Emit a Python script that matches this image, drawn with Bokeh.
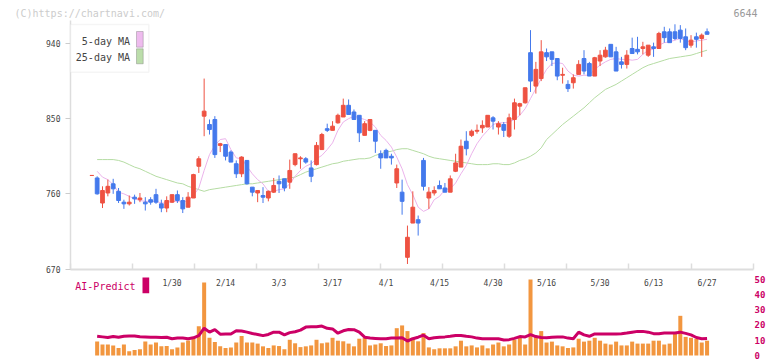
from bokeh.plotting import figure
from bokeh.models import Range1d, LinearAxis, FixedTicker, ColumnDataSource, Label, BoxAnnotation
from bokeh.embed import file_html
from bokeh.resources import INLINE

nan = float("nan")

# ---- data ----
opens = [782, 779, 749, 761, 772, 763, 750, 748, 756, 753,
         750, 753, 759, 748, 743, 750, 759, 752, 744, 755,
         793, 853, 843, 849, 818, 819, 810, 796, 784, 800,
         768, 761, 758, 755, 762, 775, 778, 774, 795, 802,
         802, 791, 795, 813, 838, 836, 845, 852, 866, 858,
         854, 830, 836, 836, 808, 812, 805, 773, 762, 684,
         725, 729, 800, 755, 761, 770, 767, 762, 787, 792,
         823, 830, 835, 839, 840, 851, 840, 843, 829, 849,
         865, 869, 929, 889, 898, 929, 930, 922, 902, 891,
         893, 903, 922, 916, 901, 919, 924, 939, 930, 918,
         915, 934, 933, 934, 926, 936, 934, 954, 954, 954,
         956, 948, 938, 948, 946, 954]
highs = [782, 781, 769, 777, 778, 767, 753, 758, 759, 761,
         756, 756, 766, 753, 757, 759, 764, 756, 762, 784,
         805, 898, 849, 853, 821, 819, 812, 800, 805, 800,
         768, 764, 768, 764, 779, 782, 778, 801, 808, 805,
         804, 800, 822, 833, 844, 847, 856, 874, 873, 861,
         854, 847, 849, 836, 812, 814, 808, 795, 777, 722,
         763, 734, 803, 768, 769, 776, 773, 782, 808, 825,
         835, 837, 843, 848, 854, 853, 847, 846, 856, 874,
         869, 887, 956, 918, 944, 934, 930, 922, 911, 896,
         903, 920, 932, 918, 924, 932, 936, 939, 936, 924,
         932, 947, 948, 942, 938, 941, 954, 960, 958, 963,
         962, 958, 950, 953, 952, 958]
lows = [782, 759, 743, 757, 760, 749, 742, 746, 748, 750,
        740, 747, 748, 738, 738, 749, 749, 737, 744, 755,
        785, 829, 831, 803, 810, 800, 798, 779, 780, 771,
        757, 750, 749, 751, 761, 761, 763, 766, 793, 790,
        796, 774, 794, 813, 834, 836, 844, 852, 855, 849,
        822, 830, 835, 809, 790, 803, 795, 767, 735, 676,
        725, 710, 764, 742, 758, 766, 762, 762, 786, 792,
        806, 828, 832, 833, 840, 837, 831, 828, 827, 837,
        854, 868, 882, 880, 895, 919, 913, 896, 892, 882,
        886, 903, 903, 901, 901, 913, 923, 924, 907, 910,
        910, 928, 927, 927, 924, 924, 934, 941, 941, 944,
        941, 932, 935, 935, 924, 951]
closes = [782, 760, 764, 769, 766, 752, 748, 750, 754, 755,
          748, 750, 750, 743, 752, 759, 752, 742, 756, 783,
          802, 859, 837, 807, 820, 805, 798, 784, 804, 772,
          762, 764, 756, 763, 770, 772, 767, 788, 808, 803,
          798, 781, 818, 831, 836, 841, 854, 866, 855, 849,
          833, 844, 849, 823, 803, 803, 803, 790, 751, 708,
          744, 725, 769, 762, 764, 766, 762, 778, 797, 817,
          814, 835, 836, 842, 854, 847, 844, 836, 851, 869,
          868, 887, 895, 909, 930, 924, 921, 901, 903, 886,
          899, 915, 907, 901, 923, 926, 932, 924, 907, 915,
          926, 928, 930, 936, 938, 934, 952, 947, 941, 946,
          946, 935, 944, 945, 950, 951]
ma5 = [nan, 787, 780, 777, 771, 762, 760, 757, 754, 752,
       751, 751, 751, 749, 749, 751, 751, 750, 752, 758,
       767, 788, 807, 818, 825, 826, 813, 803, 802, 793,
       784, 777, 772, 763, 763, 765, 766, 772, 781, 788,
       793, 796, 802, 806, 813, 821, 836, 846, 850, 853,
       851, 849, 846, 840, 830, 824, 816, 804, 790, 771,
       759, 744, 739, 742, 753, 757, 765, 766, 773, 784,
       794, 808, 820, 829, 836, 843, 845, 845, 846, 849,
       854, 862, 874, 886, 898, 909, 916, 917, 916, 907,
       902, 901, 902, 902, 909, 914, 918, 921, 922, 921,
       921, 920, 921, 927, 932, 933, 938, 941, 942, 944,
       946, 943, 942, 943, 944, 945]
ma25 = [nan, 801, 801, 801, 801, 800, 798, 795, 792, 790,
        787, 784, 781, 779, 777, 775, 773, 772, 769, 767,
        765, 763, 765, 766, 767, 768, 769, 770, 771, 772,
        772, 773, 774, 775, 776, 777, 778, 779, 780, 783,
        786, 788, 790, 792, 794, 796, 797, 799, 800, 801,
        802, 802, 803, 806, 808, 810, 811, 813, 814, 814,
        812, 810, 808, 805, 803, 802, 801, 800, 799, 798,
        797, 796, 795, 795, 795, 796, 796, 795, 795, 797,
        800, 802, 805, 809, 815, 825, 831, 837, 843, 848,
        853, 858, 863, 869, 875, 880, 885, 888, 891, 895,
        899, 903, 907, 911, 914, 916, 918, 920, 922, 923,
        924, 925, 926, 928, 930, 932]
volume = [nan, 9.1, 7.2, 7.2, 6.6, 4.9, 7.2, 2.8, 3.6, 4.1,
          9.1, 7.2, 8.5, 6.0, 6.2, 4.1, 5.3, 8.5, 9.9, 12.0,
          19.1, 47.9, 11.6, 8.9, 6.0, 4.9, 5.3, 8.5, 12.8, 8.5,
          8.5, 7.8, 6.0, 4.9, 6.6, 6.2, 4.1, 10.3, 8.0, 5.5,
          6.0, 6.6, 10.3, 8.0, 8.5, 11.6, 9.7, 9.3, 7.8, 6.0,
          11.0, 11.6, 6.6, 7.2, 8.0, 6.2, 6.6, 17.9, 19.7, 16.0,
          11.6, 9.3, 14.7, 5.3, 4.1, 4.7, 4.7, 4.7, 6.0, 9.7,
          6.0, 6.6, 5.3, 6.6, 4.7, 7.2, 8.5, 6.0, 7.2, 10.3,
          12.2, 7.2, 49.8, 12.2, 16.0, 8.5, 9.1, 6.6, 6.0, 4.9,
          5.3, 11.0, 9.1, 9.7, 11.6, 9.7, 7.8, 7.2, 9.1, 6.6,
          6.6, 9.1, 7.8, 7.8, 7.8, 9.7, 9.7, 7.2, 7.8, 14.1,
          26.0, 12.2, 11.6, 11.0, 8.5, 9.7]
ai_predict = [nan, 12.6, 12.2, 11.8, 12.4, 11.9, 12.6, 12.8, 12.8, 12.3,
              12.1, 11.9, 12.0, 11.8, 12.0, 11.0, 11.4, 11.4, 11.0, 11.6,
              13.0, 17.9, 15.3, 17.0, 14.0, 14.1, 14.1, 16.2, 16.0, 15.3,
              14.4, 13.8, 13.0, 13.8, 15.3, 15.3, 13.5, 15.0, 15.6, 16.6,
              18.6, 18.9, 18.9, 19.3, 17.8, 17.4, 14.6, 16.2, 17.0, 16.9,
              15.3, 12.0, 11.4, 11.2, 11.0, 11.0, 11.4, 11.5, 11.6, 9.5,
              11.0, 12.0, 13.3, 11.0, 11.6, 12.0, 12.2, 12.6, 13.1, 13.1,
              12.6, 12.2, 11.4, 11.0, 11.0, 11.0, 11.0, 10.2, 10.4, 11.2,
              12.4, 12.2, 13.7, 12.4, 11.8, 11.6, 12.0, 12.2, 12.2, 11.4,
              11.0, 15.3, 13.5, 12.6, 14.1, 14.1, 14.1, 14.1, 14.1, 14.3,
              14.7, 15.3, 15.8, 15.8, 15.3, 14.3, 14.3, 14.7, 14.7, 14.7,
              15.3, 14.5, 13.5, 11.8, 11.0, 11.2]
date_index = [15, 25, 35, 45, 55, 65, 75, 85, 95, 105, 115]
date_labels = ["1/30", "2/14", "3/3", "3/17", "4/1", "4/15", "4/30", "5/16", "5/30", "6/13", "6/27"]
price_ticks = [670, 760, 850, 940]
volume_ticks = [0, 10, 20, 30, 40, 50]
axis_ticks = [-3.98, 7.61, 19.2, 30.8, 42.4, 54.0, 65.6, 77.2, 88.7, 100.4, 112.0, 123.6]

days = list(range(len(closes)))

# ---- styles / geometry ----
FONT = "DejaVu Sans Mono"
UP = "#EE5242"
DOWN = "#4479EC"
AXIS = "#dddddd"
MAGENTA = "#CC0066"
X_LEFT, X_RIGHT = -3.98, 123.68      # plot area edges (price panel)
P_TOP = 967.54

is_up = [c >= o for o, c in zip(opens, closes)]
def subset(flag):
    idx = [i for i in days if is_up[i] == flag]
    return ColumnDataSource(dict(
        x=[days[i] for i in idx],
        top=[max(opens[i], closes[i]) for i in idx],
        bottom=[min(opens[i], closes[i]) for i in idx],
        high=[highs[i] for i in idx],
        low=[lows[i] for i in idx],
    ))
up_src = subset(True)
down_src = subset(False)
line_src = ColumnDataSource(dict(x=days, ma5=ma5, ma25=ma25, vol=volume, ai=ai_predict))

p = figure(width=772, height=361, output_backend="svg", toolbar_location=None,
           x_range=Range1d(-17.065, 127.23), y_range=Range1d(559.25, 991.48),
           x_axis_type=None, y_axis_type=None,
           min_border_left=0, min_border_right=0, min_border_top=0, min_border_bottom=0)
p.outline_line_color = None
p.background_fill_color = "white"
p.border_fill_color = "white"
p.extra_y_ranges = {"vol": Range1d(-3.93, 232.6)}

# axes
left = LinearAxis(ticker=FixedTicker(ticks=price_ticks), bounds=(670, P_TOP), fixed_location=X_LEFT,
                  axis_line_color=AXIS, axis_line_width=1.5,
                  major_tick_line_color="#cccccc", major_tick_in=0, major_tick_out=5,
                  major_label_standoff=5, major_label_text_font=FONT,
                  major_label_text_font_size="8px", major_label_text_color="#444444")
p.add_layout(left, "left")

right = LinearAxis(y_range_name="vol", ticker=FixedTicker(ticks=volume_ticks), fixed_location=X_RIGHT,
                   axis_line_color=None, major_tick_line_color=None,
                   major_tick_in=0, major_tick_out=0,
                   major_label_standoff=1, major_label_text_font=FONT,
                   major_label_text_font_size="9px", major_label_text_font_style="bold",
                   major_label_text_color=MAGENTA)
p.add_layout(right, "right")

xaxis = LinearAxis(ticker=FixedTicker(ticks=axis_ticks), fixed_location=670, bounds=(X_LEFT, X_RIGHT),
                   axis_line_color=AXIS, axis_line_width=2,
                   major_tick_line_color=AXIS, major_tick_line_width=1.5,
                   major_tick_in=6, major_tick_out=0, major_label_text_color=None)
p.add_layout(xaxis, "below")

dateaxis = LinearAxis(ticker=FixedTicker(ticks=date_index), fixed_location=670,
                      major_label_overrides={i: s for i, s in zip(date_index, date_labels)},
                      axis_line_color=None, major_tick_line_color=None,
                      major_tick_in=0, major_tick_out=0, major_label_standoff=10,
                      major_label_text_font=FONT, major_label_text_font_size="8px",
                      major_label_text_color="#444444")
p.add_layout(dateaxis, "below")

# volume + AI predict
p.vbar(x="x", top="vol", width=0.75, bottom=0, source=line_src, y_range_name="vol",
       fill_color="#F2963F", line_color=None)
p.line(x="x", y="ai", source=line_src, y_range_name="vol", line_color=MAGENTA, line_width=3)

# moving averages
p.line(x="x", y="ma25", source=line_src, line_color="#B5DCA3", line_width=1)
p.line(x="x", y="ma5", source=line_src, line_color="#EBB3EB", line_width=1)

# candles
for src, col in ((up_src, UP), (down_src, DOWN)):
    p.segment(x0="x", y0="high", x1="x", y1="low", source=src, line_color=col, line_width=1)
    p.vbar(x="x", top="top", bottom="bottom", width=0.7, source=src,
           fill_color=col, line_color=col, line_width=1)

def box(l, r, t, b, **kw):
    return BoxAnnotation(left=l, right=r, top=t, bottom=b,
                         left_units="screen", right_units="screen",
                         top_units="screen", bottom_units="screen", fill_alpha=1, **kw)

def label(x, y, text, **kw):
    return Label(x=x, y=y, x_units="screen", y_units="screen", text=text,
                 text_baseline="middle", text_font=FONT, text_font_size="10px", **kw)

# MA legend (text left, swatch right, as in the original)
p.add_layout(box(70, 148.3, 337, 289.3, fill_color="white", line_color="#dddddd", line_width=1.5))
p.add_layout(label(129.5, 320.5, "5-day MA", text_align="right", text_color="#444444"))
p.add_layout(label(129.5, 304.3, "25-day MA", text_align="right", text_color="#444444"))
p.add_layout(box(136, 142.7, 330, 314.3, fill_color="#EEBBEE", line_color="#555555", line_width=1))
p.add_layout(box(136, 142.7, 312.7, 297.7, fill_color="#BBDDAA", line_color="#555555", line_width=1))

# AI-Predict legend
p.add_layout(label(135, 75.2, "AI-Predict", text_align="right", text_color=MAGENTA))
p.add_layout(box(142, 148.7, 84, 68.3, fill_color=MAGENTA, line_color=None))

# watermark and code
p.add_layout(label(14, 348.5, "(C)https://chartnavi.com/", text_color="#cccccc"))
p.add_layout(label(757, 348.5, "6644", text_align="right", text_color="#999999"))

open("out.html", "w").write(file_html(p, INLINE))
